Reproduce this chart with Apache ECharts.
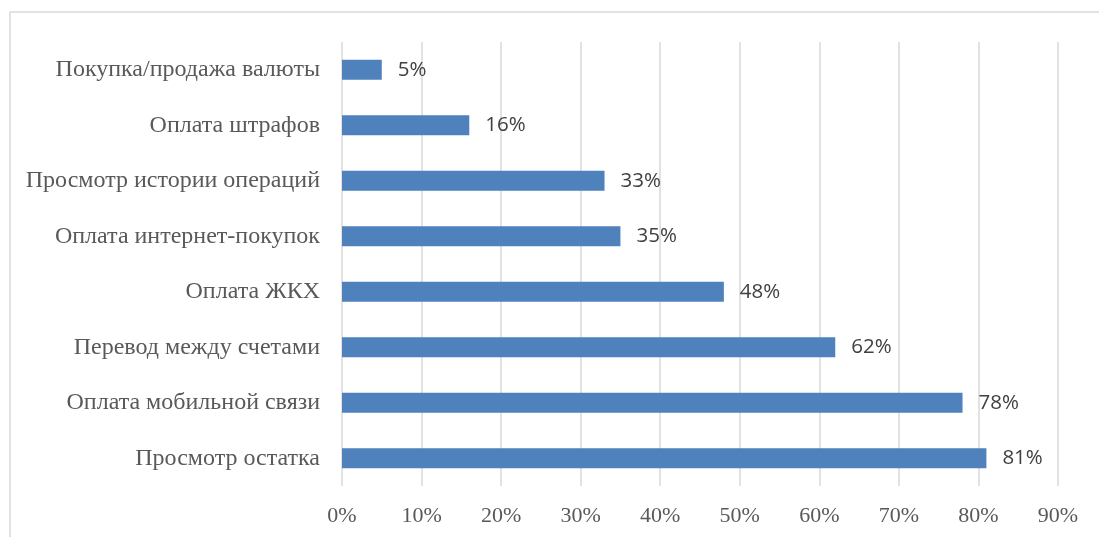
<!DOCTYPE html>
<html>
<head>
<meta charset="utf-8">
<script src="https://cdn.jsdelivr.net/npm/echarts@6/dist/echarts.min.js"></script>
<style>
  html, body { margin: 0; padding: 0; background: #fff; }
  #chart { width: 1099px; height: 537px; }
</style>
</head>
<body>
<div id="chart"></div>
<script>
// categories bottom-to-top, as the y axis draws them
const categories = [
  'Просмотр остатка',
  'Оплата мобильной связи',
  'Перевод между счетами',
  'Оплата ЖКХ',
  'Оплата интернет-покупок',
  'Просмотр истории операций',
  'Оплата штрафов',
  'Покупка/продажа валюты',
];
const shares = [81, 78, 62, 48, 35, 33, 16, 5];

const chart = echarts.init(document.getElementById('chart'));

chart.setOption({
  animation: false,
  backgroundColor: '#fff',
  graphic: [
    {
      type: 'rect',
      shape: { x: 10, y: 12, width: 1200, height: 600 },
      style: { fill: 'none', stroke: '#d9d9d9', lineWidth: 1.5 },
      silent: true,
    },
  ],
  grid: { left: 342, right: 41, top: 42, bottom: 51 },
  xAxis: {
    type: 'value',
    min: 0,
    max: 90,
    interval: 10,
    axisLine: { show: false },
    axisTick: { show: false },
    splitLine: { lineStyle: { color: '#d9d9d9', width: 1.5 } },
    axisLabel: {
      formatter: '{value}%',
      fontFamily: 'Liberation Serif',
      fontSize: 22,
      color: '#595959',
      margin: 19,
    },
  },
  yAxis: {
    type: 'category',
    data: categories,
    axisLine: { show: false },
    axisTick: { show: false },
    axisLabel: {
      fontFamily: 'Liberation Serif',
      fontSize: 24,
      color: '#595959',
      margin: 22,
    },
  },
  series: [
    {
      type: 'bar',
      data: shares,
      barWidth: 20,
      itemStyle: { color: '#4f81bd' },
      label: {
        show: true,
        position: 'right',
        distance: 16,
        formatter: '{c}%',
        fontFamily: 'Open Sans',
        fontSize: 20.5,
        color: '#404040',
      },
    },
  ],
});
</script>
</body>
</html>
